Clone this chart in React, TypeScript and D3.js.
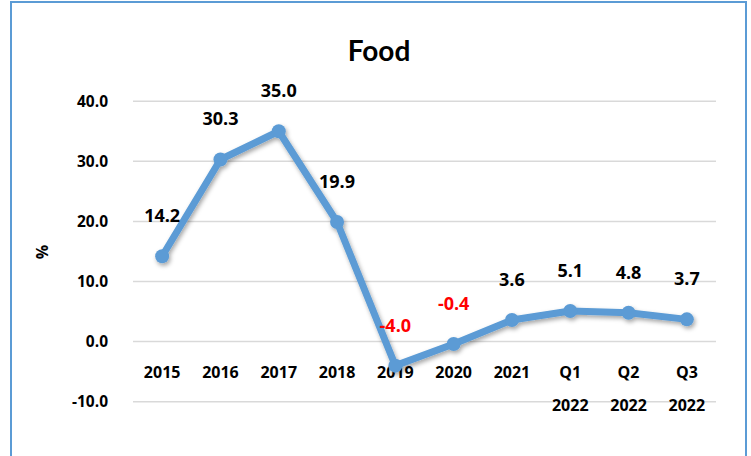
import React from "react";
import * as d3 from "d3";

const categories: string[][] = [["2015"], ["2016"], ["2017"], ["2018"], ["2019"], ["2020"], ["2021"], ["Q1", "2022"], ["Q2", "2022"], ["Q3", "2022"]];
const values: number[] = [14.2, 30.3, 35.0, 19.9, -4.0, -0.4, 3.6, 5.1, 4.8, 3.7];
const yTicks: number[] = [-10, 0, 10, 20, 30, 40];
const title = "Food";
const yLabel = "%";

const W = 751;
const H = 456;
const FONT = "'Open Sans', 'DejaVu Sans', sans-serif";
const fmt = (v: number) => v.toFixed(1);

export default function App() {
  const x = d3
    .scaleBand<number>()
    .domain(categories.map((_, i) => i))
    .range([133, 716]);
  const y = d3.scaleLinear().domain([-10, 40]).range([401.7, 101.2]);
  const cx = (i: number) => (x(i) as number) + x.bandwidth() / 2;
  const line = d3
    .line<number>()
    .x((_, i) => cx(i))
    .y((d) => y(d));

  return (
    <svg
      width={W}
      height={H}
      style={{ position: "absolute", left: 0, top: 0, background: "#fff" }}
      fontFamily={FONT}
    >
      <defs>
        <filter id="sh" x="-20%" y="-20%" width="140%" height="140%">
          <feDropShadow dx="1.5" dy="2.5" stdDeviation="2" floodColor="#000" floodOpacity="0.35" />
        </filter>
      </defs>
      <rect x={0} y={0} width={W} height={H} fill="#fff" />
      <rect x={11} y={2} width={735} height={470} fill="none" stroke="#5B9BD5" strokeWidth={2} />
      <text x={379} y={61} textAnchor="middle" fontSize={28} fontWeight="bold" fontFamily="Lato, 'Open Sans', sans-serif" fill="#000">
        {title}
      </text>
      {yTicks.map((t) => (
        <g key={t}>
          <line x1={133} x2={716} y1={y(t)} y2={y(t)} stroke="#d9d9d9" strokeWidth={1.5} />
          <text x={108} y={y(t) + 5.5} textAnchor="end" fontSize={15.5} fontWeight="bold" fill="#000">
            {fmt(t)}
          </text>
        </g>
      ))}
      <text
        transform={`translate(48,${252}) rotate(-90)`}
        textAnchor="middle"
        fontSize={16}
        fontWeight="bold"
        fill="#000"
      >
        {yLabel}
      </text>
      {categories.map((c, i) =>
        c.map((s, k) => (
          <text key={`${i}-${k}`} x={cx(i)} y={377.5 + k * 33.5} textAnchor="middle" fontSize={16} fontWeight="bold" fill="#000">
            {s}
          </text>
        ))
      )}
      <g filter="url(#sh)">
        <path d={line(values) || ""} fill="none" stroke="#5B9BD5" strokeWidth={7} strokeLinejoin="round" strokeLinecap="round" />
        {values.map((v, i) => (
          <circle key={i} cx={cx(i)} cy={y(v)} r={7} fill="#5B9BD5" />
        ))}
      </g>
      {values.map((v, i) => (
        <text
          key={i}
          x={cx(i)}
          y={y(v) - 34}
          textAnchor="middle"
          fontSize={18}
          fontWeight="bold"
          fill={v < 0 ? "#FF0000" : "#000"}
        >
          {fmt(v)}
        </text>
      ))}
    </svg>
  );
}
